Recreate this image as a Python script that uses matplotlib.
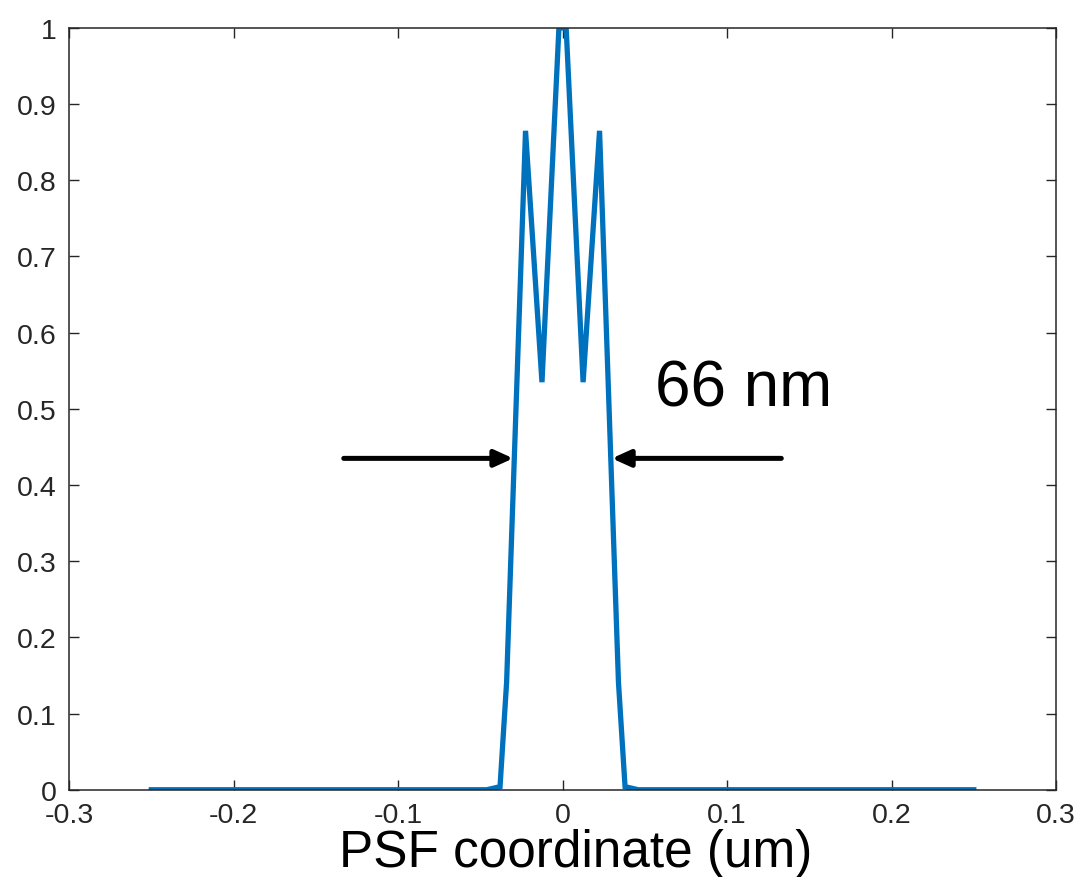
import numpy as np
import matplotlib
matplotlib.use("Agg")
import matplotlib.pyplot as plt

plt.rcParams['font.family'] = ['Liberation Sans', 'DejaVu Sans']
plt.rcParams['axes.unicode_minus'] = False

# PSF profile (um, normalised intensity)
psf_x = [-0.25, -0.046, -0.038, -0.034, -0.0225, -0.0125, -0.0022,
         0.0022, 0.0125, 0.0225, 0.034, 0.038, 0.046, 0.25]
psf_y = [0.0, 0.0, 0.004, 0.141, 0.865, 0.535, 1.0,
         1.0, 0.535, 0.865, 0.141, 0.004, 0.0, 0.0]

x_ticks = [-0.3, -0.2, -0.1, 0, 0.1, 0.2, 0.3]
x_labels = ['-0.3', '-0.2', '-0.1', '0', '0.1', '0.2', '0.3']
y_ticks = [0, 0.1, 0.2, 0.3, 0.4, 0.5, 0.6, 0.7, 0.8, 0.9, 1]
y_labels = ['0', '0.1', '0.2', '0.3', '0.4', '0.5', '0.6', '0.7', '0.8', '0.9', '1']

# FWHM arrows
arrow_y = 0.435
left_arrow = (-0.133, -0.030)
right_arrow = (0.133, 0.030)
fwhm_text = '66 nm'

line_color = '#0072BD'
axis_color = '#262626'

fig = plt.figure(figsize=(10.79, 8.78), dpi=100)
ax = fig.add_axes([0.064, 0.0994, 0.9147, 0.8676])

ax.plot(psf_x, psf_y, color=line_color, lw=3.8, solid_joinstyle='miter', clip_on=True)

ax.set_xlim(-0.3, 0.3)
ax.set_ylim(0, 1)
ax.set_xticks(x_ticks)
ax.set_xticklabels(x_labels)
ax.set_yticks(y_ticks)
ax.set_yticklabels(y_labels)
ax.tick_params(direction='in', length=7, width=1.0, colors=axis_color,
               labelsize=20.5, top=True, right=True, pad=9)
for s in ax.spines.values():
    s.set_color(axis_color)
    s.set_linewidth(1.1)

for start, tip in (left_arrow, right_arrow):
    ax.annotate('', xy=(tip, arrow_y), xytext=(start, arrow_y),
                arrowprops=dict(arrowstyle='-|>,head_length=1.1,head_width=0.5',
                                color='black', lw=3.6, shrinkA=0, shrinkB=0))

ax.text(0.0562, 0.5046, fwhm_text, fontsize=46, color='black',
        ha='left', va='baseline')

fig.text(576 / 1079, 1 - 866.7 / 878, 'PSF coordinate (um)', fontsize=37,
         color='black', ha='center', va='baseline')

fig.savefig('out.png', dpi=100)
